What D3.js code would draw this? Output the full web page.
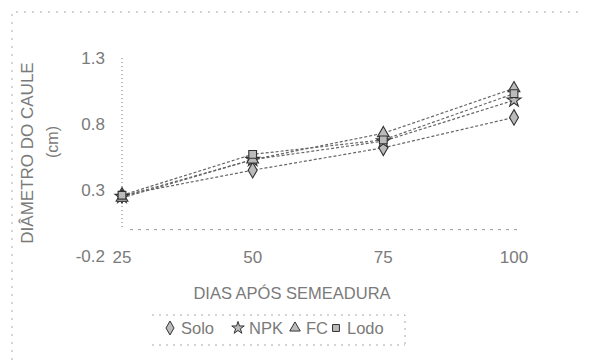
<!DOCTYPE html>
<html>
<head>
<meta charset="utf-8">
<script src="https://cdn.jsdelivr.net/npm/d3@7"></script>
<style>
  body { margin: 0; background: #fff; }
  text { font-family: "Liberation Sans", Arial, sans-serif; fill: #7a7a7a; }
</style>
</head>
<body>
<div id="chart"></div>
<script>
// Diameter of the stem over days after sowing, four treatments
var dias = [25, 50, 75, 100];
var solo = [0.26, 0.45, 0.62, 0.85];
var npk  = [0.25, 0.53, 0.67, 0.98];
var fc   = [0.24, 0.53, 0.73, 1.07];
var lodo = [0.26, 0.57, 0.68, 1.03];
var yTicks = [-0.2, 0.3, 0.8, 1.3];
var seriesNames = ["Solo", "NPK", "FC", "Lodo"];

var series = [
  { name: seriesNames[0], values: solo, symbol: d3.symbolDiamond, size: 70 },
  { name: seriesNames[1], values: npk,  symbol: d3.symbolStar,    size: 60 },
  { name: seriesNames[2], values: fc,   symbol: d3.symbolTriangle, size: 60 },
  { name: seriesNames[3], values: lodo, symbol: d3.symbolSquare,  size: 60 }
];

var width = 591, height = 361;

var svg = d3.select("#chart")
  .append("svg")
  .attr("width", width)
  .attr("height", height);

// scanned look: faint dotted frame around the whole chart
svg.append("path")
  .attr("d", "M12,360 L12,12 L580,12")
  .attr("fill", "none")
  .attr("stroke", "#aaa")
  .attr("stroke-width", 1)
  .attr("stroke-dasharray", "2,6");

// scales
var x = d3.scaleLinear().domain([25, 100]).range([122, 514]);
var y = d3.scaleLinear().domain([-0.2, 1.3]).range([256, 58]);

// y axis (dotted line, no ticks)
svg.append("line")
  .attr("x1", x(25)).attr("x2", x(25))
  .attr("y1", y(1.3)).attr("y2", y(0))
  .attr("stroke", "#777")
  .attr("stroke-dasharray", "1,3");

// x axis crosses at zero
svg.append("line")
  .attr("x1", x(25) + 8).attr("x2", x(100) + 6)
  .attr("y1", y(0)).attr("y2", y(0))
  .attr("stroke", "#999")
  .attr("stroke-dasharray", "3,5");

// y tick labels
svg.append("g").selectAll("text")
  .data(yTicks)
  .join("text")
  .attr("x", 105)
  .attr("y", d => y(d) + 6)
  .attr("text-anchor", "end")
  .attr("font-size", 17)
  .text(d => d.toFixed(1));

// x tick labels
svg.append("g").selectAll("text")
  .data(dias)
  .join("text")
  .attr("x", d => x(d))
  .attr("y", 263)
  .attr("text-anchor", "middle")
  .attr("font-size", 17)
  .text(d => d);

// axis titles
svg.append("text")
  .attr("transform", "translate(33,153) rotate(-90)")
  .attr("text-anchor", "middle")
  .attr("font-size", 17)
  .text("DIÂMETRO DO CAULE");

svg.append("text")
  .attr("transform", "translate(58,142) rotate(-90)")
  .attr("text-anchor", "middle")
  .attr("font-size", 16)
  .text("(cm)");

svg.append("text")
  .attr("x", 292)
  .attr("y", 299)
  .attr("text-anchor", "middle")
  .attr("font-size", 16.5)
  .text("DIAS APÓS SEMEADURA");

// lines
var line = d3.line()
  .x((d, i) => x(dias[i]))
  .y(d => y(d));

svg.append("g").selectAll("path")
  .data(series)
  .join("path")
  .attr("d", d => line(d.values))
  .attr("fill", "none")
  .attr("stroke", "#666")
  .attr("stroke-width", 1.2)
  .attr("stroke-dasharray", "3,2");

// markers
series.forEach(function(s) {
  svg.append("g").selectAll("path")
    .data(s.values)
    .join("path")
    .attr("transform", (d, i) => `translate(${x(dias[i])},${y(d)})`)
    .attr("d", d3.symbol().type(s.symbol).size(s.size))
    .attr("fill", "#bbb")
    .attr("stroke", "#333")
    .attr("stroke-width", 1.1);
});

// legend
var legendX = [170, 238, 295, 336];
var legend = svg.append("g");
legend.append("path")
  .attr("d", "M152,315 L405,315 L405,345 M152,345 L405,345")
  .attr("fill", "none")
  .attr("stroke", "#aaa")
  .attr("stroke-dasharray", "2,5");

var items = legend.selectAll("g")
  .data(series)
  .join("g")
  .attr("transform", (d, i) => `translate(${legendX[i]},328)`);

items.append("path")
  .attr("d", d => d3.symbol().type(d.symbol).size(d.size * 0.8)())
  .attr("fill", "#bbb")
  .attr("stroke", "#333")
  .attr("stroke-width", 1);

items.append("text")
  .attr("x", 11)
  .attr("y", 6)
  .attr("font-size", 16.5)
  .text(d => d.name);
</script>
</body>
</html>
